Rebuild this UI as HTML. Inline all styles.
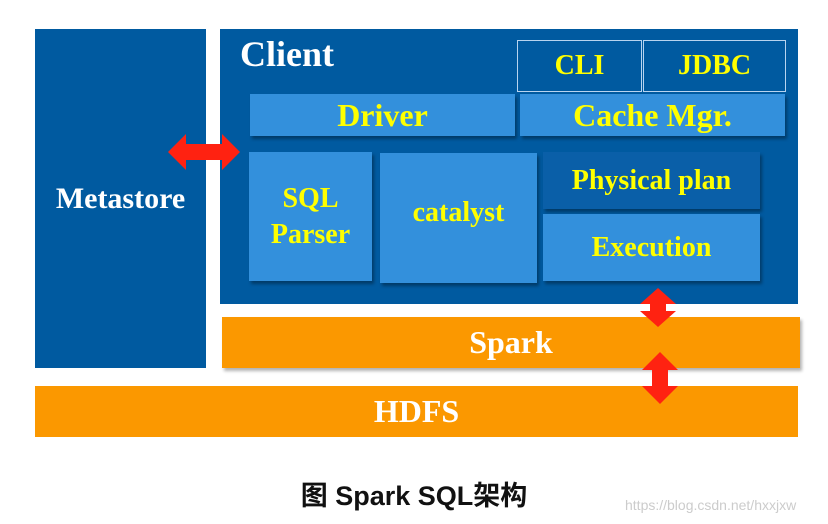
<!DOCTYPE html>
<html><head><meta charset="utf-8"><style>
body{margin:0;width:828px;height:524px;background:#fff;position:relative;overflow:hidden;font-family:"Liberation Serif",serif;font-weight:bold}
div{position:absolute;box-sizing:border-box}
.lb{background:#3390dc;box-shadow:2px 3px 3px rgba(0,0,0,.35);color:#ffff00;display:flex;align-items:center;justify-content:center;text-align:center}
</style></head><body>
<div style="left:35px;top:29px;width:171px;height:339px;background:#005aa0;color:#fff;font-size:30px;display:flex;align-items:center;justify-content:center">Metastore</div>
<div style="left:220px;top:29px;width:578px;height:275px;background:#005aa0"></div>
<div style="left:240px;top:33px;color:#fff;font-size:36px">Client</div>
<div style="left:517px;top:40px;width:125px;height:52px;border:1px solid #b8d4f0;color:#ff0;font-size:28px;display:flex;align-items:center;justify-content:center">CLI</div>
<div style="left:643px;top:40px;width:143px;height:52px;border:1px solid #b8d4f0;color:#ff0;font-size:28px;display:flex;align-items:center;justify-content:center">JDBC</div>
<div class="lb" style="left:250px;top:94px;width:265px;height:42px;font-size:32px">Driver</div>
<div class="lb" style="left:520px;top:94px;width:265px;height:42px;font-size:32px">Cache Mgr.</div>
<div class="lb" style="left:249px;top:152px;width:123px;height:129px;font-size:28px;line-height:36px">SQL<br>Parser</div>
<div class="lb" style="left:380px;top:153px;width:157px;height:130px;font-size:28px;padding-bottom:10px">catalyst</div>
<div class="lb" style="left:543px;top:152px;width:217px;height:57px;font-size:28px;background:#0a5fa8">Physical plan</div>
<div class="lb" style="left:543px;top:214px;width:217px;height:67px;font-size:28px">Execution</div>
<div style="left:222px;top:317px;width:578px;height:51px;background:#fb9800;box-shadow:2px 3px 3px rgba(0,0,0,.3);color:#fff;font-size:32px;display:flex;align-items:center;justify-content:center">Spark</div>
<div style="left:35px;top:386px;width:763px;height:51px;background:#fb9800;color:#fff;font-size:32px;display:flex;align-items:center;justify-content:center">HDFS</div>
<svg style="position:absolute;left:0;top:0" width="828" height="524">
<polygon fill="#f21" points="168,152 186,134 186,144 222,144 222,134 240,152 222,170 222,160 186,160 186,170"/>
<polygon fill="#f21" points="658,288 676,304 666,304 666,311 676,311 658,327 640,311 650,311 650,304 640,304"/>
<polygon fill="#f21" points="660,352 678,370 668,370 668,386 678,386 660,404 642,386 652,386 652,370 642,370"/>
</svg>
<div style="left:0;width:828px;top:474px;text-align:center;font-family:'Liberation Sans','Noto Sans CJK SC',sans-serif;font-size:27px;color:#111">图 Spark SQL架构</div>
<div style="left:625px;top:497px;font-family:'Liberation Sans',sans-serif;font-weight:normal;font-size:14px;color:#ccc">https://blog.csdn.net/hxxjxw</div>
</body></html>
